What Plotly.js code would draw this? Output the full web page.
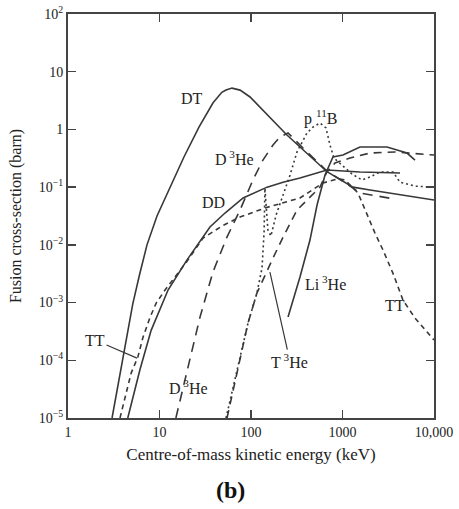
<!DOCTYPE html>
<html>
<head>
<meta charset="utf-8">
<script src="https://cdn.plot.ly/plotly-3.0.1.min.js"></script>
<style>html,body{margin:0;padding:0;background:#fff;}#chart{width:459px;height:509px;}</style>
</head>
<body>
<div id="chart"></div>
<script>
// Energies in keV (centre-of-mass), cross-sections in barn
const energyDT = [3.03, 3.43, 3.89, 4.47, 5.1, 6.04, 7.3, 9.39, 13, 18.5, 27, 38.5, 48, 53.3, 62, 76, 97.6, 247, 677, 1300, 2000, 4250, 10000];
const sigmaDT  = [1e-5, 3.05e-5, 8.9e-5, 2.96e-4, 9.4e-4, 3.0e-3, 0.01, 0.0316, 0.1, 0.333, 1.1, 2.9, 4.4, 4.8, 5.2, 4.8, 3.65, 0.8, 0.185, 0.1, 0.089, 0.073, 0.06];

const energyDD = [4.5, 6.1, 8.1, 12.4, 20, 35.6, 52, 82, 150, 224, 343, 677, 1550, 4250];
const sigmaDD  = [1e-5, 6.8e-5, 3.3e-4, 1.65e-3, 5.5e-3, 0.0204, 0.0356, 0.065, 0.1, 0.122, 0.144, 0.198, 0.183, 0.176];

const energyD3He = [15.1, 21.5, 27.7, 38.4, 54.6, 75.8, 105, 135, 174, 207, 254, 370, 677, 1065, 1560, 3750];
const sigmaD3He  = [1e-5, 1.0e-4, 5.6e-4, 3.4e-3, 0.0136, 0.040, 0.133, 0.295, 0.537, 0.738, 0.87, 0.477, 0.19, 0.12, 0.079, 0.062];

const energyTT = [3.7, 4.3, 4.9, 5.8, 6.6, 7.9, 9.2, 11.5, 20, 29.9, 48.2, 75.8, 142, 343, 612, 900, 1065, 1477, 1853, 2265, 2773, 3565, 4585, 6200, 10000];
const sigmaTT  = [1e-5, 2.7e-5, 6.0e-5, 1.14e-4, 2.5e-4, 5.6e-4, 9.8e-4, 1.65e-3, 5.2e-3, 0.0131, 0.0212, 0.0303, 0.0435, 0.065, 0.118, 0.14, 0.133, 0.079, 0.0329, 0.016, 0.0081, 3.2e-3, 1.1e-3, 5.4e-4, 2.24e-4];

const energyT3He = [54.7, 70.3, 92.7, 116, 142, 174, 224, 318, 441, 568, 677, 828, 1208, 2000, 3750, 10000];
const sigmaT3He  = [1e-5, 6.25e-5, 4.4e-4, 1.46e-3, 3.0e-3, 5.9e-3, 0.0136, 0.040, 0.067, 0.1, 0.185, 0.262, 0.319, 0.39, 0.406, 0.36];

const energyPB = [53.3, 70.3, 92.7, 116, 132, 139, 142, 153, 165, 188, 224, 267, 318, 409, 476, 568, 660, 730, 807, 988, 1270, 1633, 2000, 2570, 3565, 4250, 6200, 10000];
const sigmaPB  = [1e-5, 6.25e-5, 4.4e-4, 1.46e-3, 3.96e-3, 0.0167, 0.096, 0.018, 0.0142, 0.0329, 0.073, 0.162, 0.406, 0.867, 1.1, 1.29, 1.06, 0.537, 0.319, 0.241, 0.169, 0.133, 0.15, 0.183, 0.183, 0.122, 0.104, 0.1];

const energyLi3He = [254, 343, 441, 527, 644, 787, 1012, 1552, 3064, 5070, 6200];
const sigmaLi3He  = [5.6e-4, 2.77e-3, 0.0121, 0.049, 0.162, 0.333, 0.36, 0.495, 0.495, 0.39, 0.295];

const xTickVals = [1, 10, 100, 1000, 10000];
const xTickText = ['1', '10', '100', '1000', '10,000'];
const yTickVals = [1e-5, 1e-4, 1e-3, 1e-2, 1e-1, 1, 10, 100];
const yTickText = ['10<sup>−5</sup>', '10<sup>−4</sup>', '10<sup>−3</sup>', '10<sup>−2</sup>', '10<sup>−1</sup>', '1', '10', '10<sup>2</sup>'];

const ink = '#383838';
const serif = 'Liberation Serif, Times New Roman, serif';

function tr(x, y, dash, w) {
  return {x: x, y: y, type: 'scatter', mode: 'lines', hoverinfo: 'skip',
          line: {color: ink, width: w || 1.6, dash: dash}};
}

const data = [
  tr(energyDT, sigmaDT, 'solid'),
  tr(energyDD, sigmaDD, 'solid'),
  tr(energyLi3He, sigmaLi3He, 'solid'),
  tr(energyD3He, sigmaD3He, '10px,7px'),
  tr(energyT3He, sigmaT3He, '8px,6px'),
  tr(energyTT, sigmaTT, '5px,4px'),
  tr(energyPB, sigmaPB, '2px,3px')
];

function lab(text, x, y) {
  return {x: Math.log10(x), y: Math.log10(y), xref: 'x', yref: 'y', text: text, showarrow: false,
          font: {family: serif, size: 16, color: '#222'}};
}
function ptr(text, x, y, ax, ay) {
  return {x: Math.log10(x), y: Math.log10(y), xref: 'x', yref: 'y', text: text, showarrow: true,
          arrowhead: 0, arrowwidth: 1.2, arrowcolor: ink, ax: ax, ay: ay, standoff: 0,
          font: {family: serif, size: 16, color: '#222'}};
}

const layout = {
  width: 459, height: 509,
  margin: {l: 68, r: 25, t: 14, b: 91},
  paper_bgcolor: '#fff', plot_bgcolor: '#fff',
  showlegend: false,
  font: {family: serif, size: 14, color: '#222'},
  xaxis: {
    type: 'log', range: [0, 4], tickvals: xTickVals, ticktext: xTickText,
    ticks: 'inside', ticklen: 8, tickwidth: 1.5, tickcolor: '#444',
    showline: true, linewidth: 2, linecolor: '#444', mirror: 'ticks',
    showgrid: false, zeroline: false,
    tickfont: {family: serif, size: 14, color: '#222'},
    title: {text: 'Centre-of-mass kinetic energy (keV)', font: {family: serif, size: 17, color: '#222'}, standoff: 9}
  },
  yaxis: {
    type: 'log', range: [-5, 2], tickvals: yTickVals, ticktext: yTickText,
    ticks: 'inside', ticklen: 8, tickwidth: 1.5, tickcolor: '#444',
    showline: true, linewidth: 2, linecolor: '#444', mirror: 'ticks',
    showgrid: false, zeroline: false,
    tickfont: {family: serif, size: 14, color: '#222'},
    title: {text: 'Fusion cross-section (barn)', font: {family: serif, size: 16, color: '#222'}, standoff: 13}
  },
  annotations: [
    lab('DT', 22.7, 3.5),
    lab('D<sup> 3</sup>He', 65.2, 0.319),
    lab('DD', 39.4, 0.0552),
    lab('p <sup>11</sup>B', 582, 1.58),
    lab('Li<sup> 3</sup>He', 650, 2.18e-3),
    lab('TT', 3750, 9.05e-4),
    lab('D<sup> 3</sup>He', 20.5, 3.43e-5),
    ptr('TT', 5.68, 1.09e-4, -42, -18),
    ptr('T<sup> 3</sup>He', 161, 3.38e-3, 20, 89),
    {x: 0.443, y: -0.178, xref: 'paper', yref: 'paper', yanchor: 'middle', text: '<b>(b)</b>', showarrow: false,
     font: {family: serif, size: 24, color: '#111'}}
  ]
};

Plotly.newPlot('chart', data, layout, {staticPlot: true, displayModeBar: false});
</script>
</body>
</html>
